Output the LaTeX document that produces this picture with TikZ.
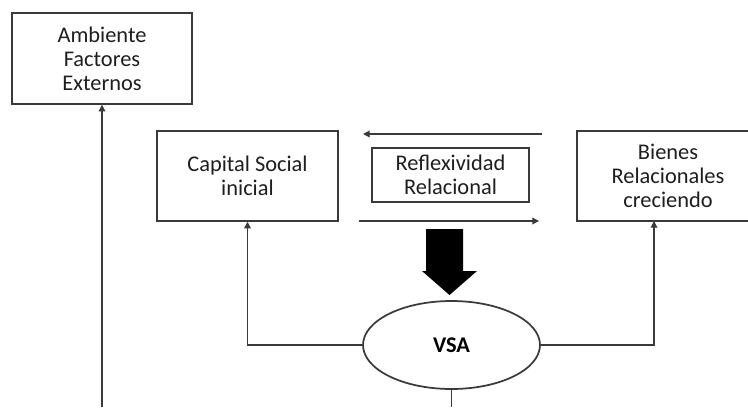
\documentclass[tikz,border=0pt]{standalone}
\usepackage{fontspec}
\setmainfont{Carlito}
\usetikzlibrary{arrows.meta,positioning,calc,shapes.geometric}
\definecolor{bline}{HTML}{3A3A3A}
\definecolor{btext}{HTML}{1E1E1E}
\tikzset{
  box/.style={draw=bline,fill=white,line width=1.1pt,align=center,font=\fontsize{16.8}{18}\selectfont,text=btext,inner sep=2pt},
  oval/.style={ellipse,draw=bline,fill=white,line width=1.3pt,align=center,font=\fontsize{16.8}{18}\selectfont\bfseries,text=black,inner sep=0pt},
  arr/.style={-{Triangle[length=5pt,width=5pt]},line width=0.9pt,draw=bline},
  ln/.style={line width=0.9pt,draw=bline},
}

\begin{document}
\begin{tikzpicture}[x=0.75pt,y=-0.75pt]
  \useasboundingbox (0,0) rectangle (748,407);
  % cajas
  \node[box,minimum width=135pt,minimum height=68.25pt] (amb) at (102,58.5) {Ambiente\\Factores\\Externos};
  \node[box,minimum width=135.75pt,minimum height=67.5pt] (cap) at (247.5,176) {Capital Social\\inicial};
  \node[box,minimum width=117.75pt,minimum height=40.5pt] (refl) at (450.5,175) {Reflexividad\\Relacional};
  \node[box,minimum width=136.5pt,minimum height=67.5pt] (bien) at (668,176) {Bienes\\Relacionales\\creciendo};
  \node[oval,minimum width=132.75pt,minimum height=66pt] (vsa) at (451.5,345) {VSA};
  % flechas de la reflexividad
  \coordinate (ta) at (542,134);
  \coordinate (tb) at (363,134);
  \coordinate (ba) at (359,221);
  \coordinate (bb) at (539,221);
  \draw[arr] (ta) -- (tb);
  \draw[arr] (ba) -- (bb);
  % flecha gruesa
  \fill[black] (426,229) -- (463,229) -- (463,271) -- (477,271) -- (449.5,295)
    -- (422,271) -- (426,271) -- cycle;
  % conexiones
  \coordinate (bot) at (451.5,407);
  \coordinate (amb0) at (102,407);
  \coordinate (bj) at (654,221);
  \draw[arr] (vsa.west) -| (cap.south);
  \draw[arr] (vsa.east) -| (bj);
  \draw[ln] (vsa.south) -- (bot);
  \draw[arr] (amb0) -- (amb.south);
\end{tikzpicture}
\end{document}
